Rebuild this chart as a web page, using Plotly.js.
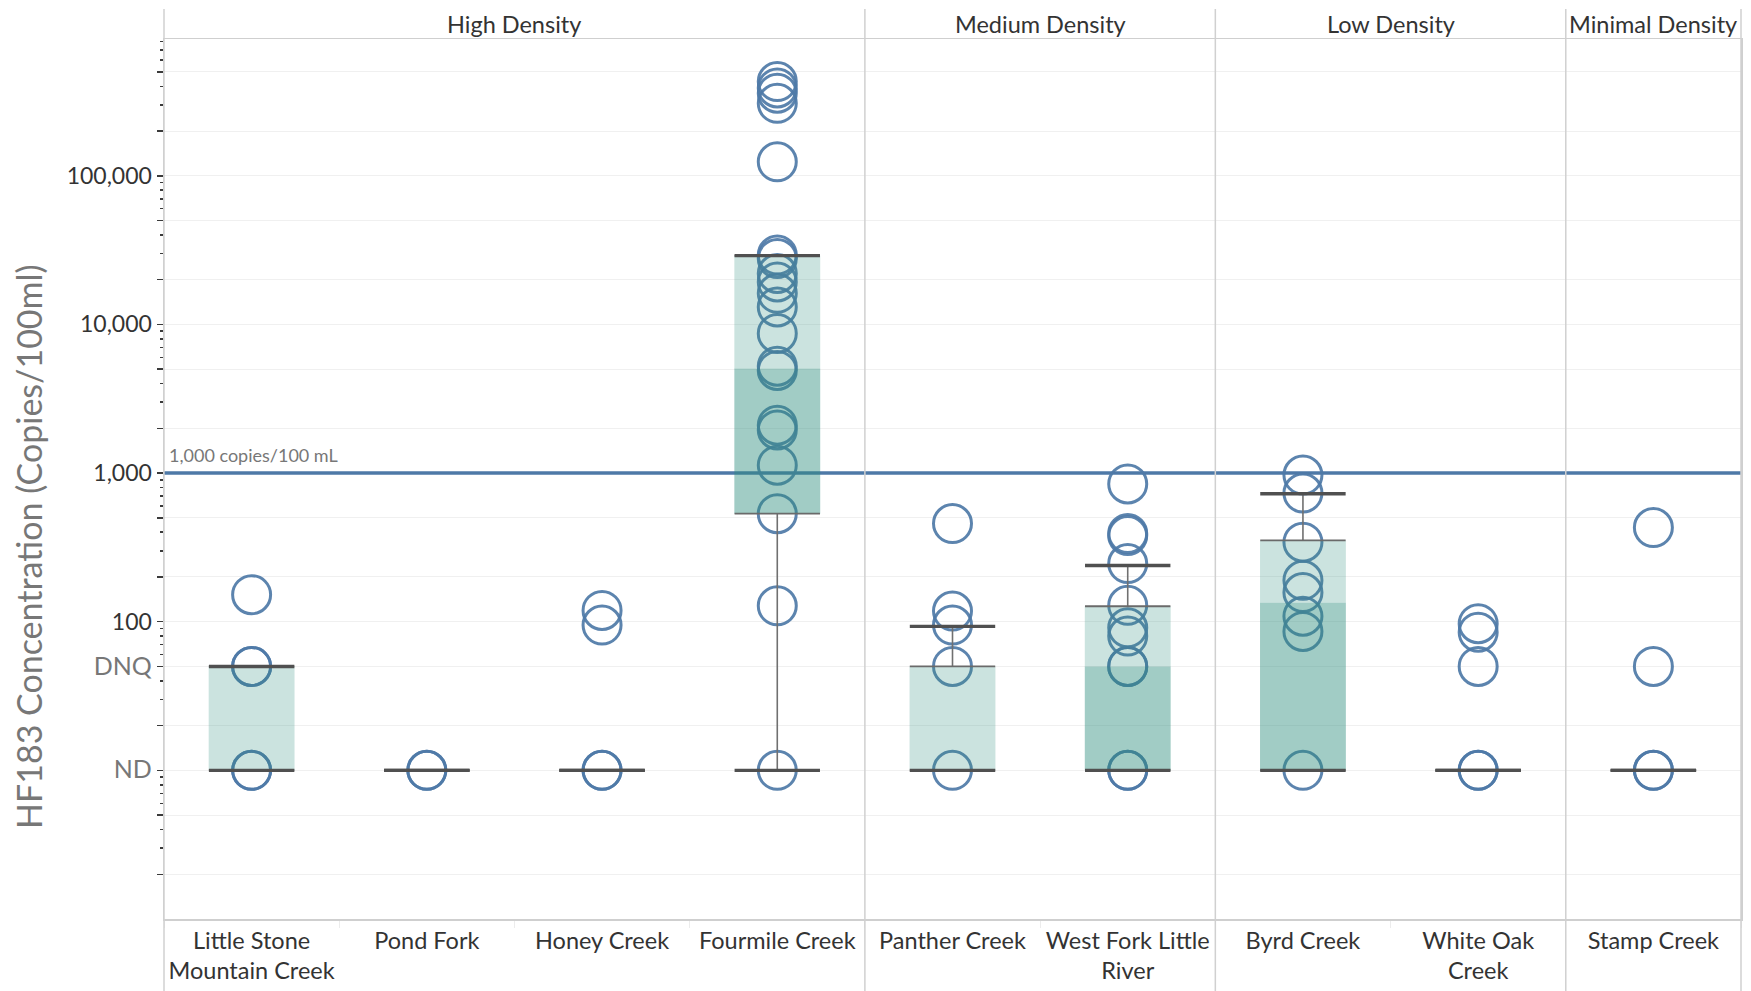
<!DOCTYPE html>
<html><head><meta charset="utf-8">
<script src="https://cdn.plot.ly/plotly-3.0.1.min.js"></script>
<style>html,body{margin:0;padding:0;background:#fff;}#chart{width:1751px;height:991px;}</style>
</head><body><div id="chart"></div>
<script>
// ---------- data ----------
const sites = ["Little Stone Mountain Creek","Pond Fork","Honey Creek","Fourmile Creek","Panther Creek","West Fork Little River","Byrd Creek","White Oak Creek","Stamp Creek"];
const siteLabels = ["Little Stone<br>Mountain Creek","Pond Fork","Honey Creek","Fourmile Creek","Panther Creek","West Fork Little<br>River","Byrd Creek","White Oak<br>Creek","Stamp Creek"];
const densityGroups = ["High Density","Medium Density","Low Density","Minimal Density"];
const sitesPerGroup = [4,2,2,1];

// samples (ND plotted at 10, DNQ plotted at 50)
const littleStone = [10,10,50,50,152];
const pondFork = [10,10];
const honeyCreek = [10,10,95,119];
const fourmileCreek = [10,128,533,1130,1950,2100,4900,5240,8700,13100,16200,19300,22000,27800,29300,124000,307000,359000,390000,430000];
const pantherCreek = [10,50,95,118,457];
const westForkLittleRiver = [10,10,50,50,80,91,129,246,380,392,845];
const byrdCreek = [10,86,109,157,190,343,734,970];
const whiteOakCreek = [10,10,50,85,97];
const stampCreek = [10,10,50,430];
const samples = [littleStone,pondFork,honeyCreek,fourmileCreek,pantherCreek,westForkLittleRiver,byrdCreek,whiteOakCreek,stampCreek];

// box plot statistics per site
const boxQ1 = [10,10,10,533,10,10,10,10,10];
const boxMedian = [10,10,10,5050,10,50,134,10,10];
const boxQ3 = [50,10,10,29000,50,127,352,10,10];
const whiskerLow = [10,10,10,10,10,10,10,10,10];
const whiskerHigh = [50,10,10,29000,93,239,726,10,10];

// axis ticks
const gridTickVals = [2,5,10,20,50,100,200,500,1000,2000,5000,10000,20000,50000,100000,200000,500000];
const gridTickText = ["","","ND","","DNQ","100","","","1,000","","","10,000","","","100,000","",""];
const minorMantissas = [3,4,6,7,8,9];
const minorDecades = [1,10,100,1000,10000,100000];
const thresholdValue = 1000;
const thresholdLabel = "1,000 copies/100 mL";
const yTitle = "HF183 Concentration (Copies/100ml)";

// ---------- build ----------
const FONT = "Lato, 'Open Sans', sans-serif";
const nSites = sites.length;
const minorVals = [];
minorDecades.forEach(d => minorMantissas.forEach(m => minorVals.push(m*d)));
const tickTextStyled = gridTickText.map(t => (t === "ND" || t === "DNQ") ? '<span style="font-size:25px;color:#777777">' + t + '</span>' : t);

const ptX = [], ptY = [];
samples.forEach((arr, i) => arr.forEach(v => { ptX.push(sites[i]); ptY.push(v); }));

const points = {
  type: 'scatter', mode: 'markers', x: ptX, y: ptY, xaxis: 'x', yaxis: 'y',
  marker: {symbol: 'circle-open', size: 38, color: 'rgba(78,121,167,0.92)', line: {width: 3, color: 'rgba(78,121,167,0.92)'}},
  hoverinfo: 'x+y', showlegend: false
};

const lowerBox = {
  type: 'bar', x: sites, base: boxQ1, y: boxQ1.map((q, i) => boxMedian[i] - q),
  width: 0.49, xaxis: 'x', yaxis: 'y2',
  marker: {color: 'rgba(46,142,127,0.45)', line: {width: 0}}, showlegend: false, hoverinfo: 'skip'
};
const upperBox = {
  type: 'bar', x: sites, base: boxMedian, y: boxMedian.map((m, i) => boxQ3[i] - m),
  width: 0.49, xaxis: 'x', yaxis: 'y2',
  marker: {color: 'rgba(46,142,127,0.25)', line: {width: 0}}, showlegend: false, hoverinfo: 'skip'
};

const wX = [], wY = [];
sites.forEach((s, i) => {
  if (whiskerHigh[i] > boxQ3[i]) { wX.push(s, s, null); wY.push(boxQ3[i], whiskerHigh[i], null); }
  if (whiskerLow[i] < boxQ1[i]) { wX.push(s, s, null); wY.push(whiskerLow[i], boxQ1[i], null); }
});
const whiskers = {
  type: 'scatter', mode: 'lines', x: wX, y: wY, xaxis: 'x', yaxis: 'y2',
  line: {color: '#707070', width: 1.6}, connectgaps: false, showlegend: false, hoverinfo: 'skip'
};

const edgeX = [], edgeY = [];
sites.forEach((s, i) => { edgeX.push(s, s); edgeY.push(boxQ1[i], boxQ3[i]); });
const boxEdges = {
  type: 'scatter', mode: 'markers', x: edgeX, y: edgeY, xaxis: 'x', yaxis: 'y2',
  marker: {symbol: 'line-ew', size: 61, line: {width: 1.8, color: '#6a6a6a'}}, showlegend: false, hoverinfo: 'skip'
};
const capX = [], capY = [];
sites.forEach((s, i) => { capX.push(s, s); capY.push(whiskerLow[i], whiskerHigh[i]); });
const caps = {
  type: 'scatter', mode: 'markers', x: capX, y: capY, xaxis: 'x', yaxis: 'y2',
  marker: {symbol: 'line-ew', size: 61, line: {width: 3.4, color: '#505050'}}, showlegend: false, hoverinfo: 'skip'
};

// layout geometry
const W = 1751, H = 991;
const mL = 164, mR = 10, mT = 39, mB = 72;
const plotH = H - mT - mB;
const yTop = 5.92;

const shapes = [];
const lineTop = 1 + (mT - 9) / plotH, lineBot = -mB / plotH;
let cum = 0;
const bounds = [0];
sitesPerGroup.forEach(n => { cum += n; bounds.push(cum / nSites); });
bounds.forEach(b => shapes.push({type: 'line', xref: 'paper', yref: 'paper', x0: b, x1: b, y0: lineBot, y1: lineTop, line: {color: '#d0d0d0', width: 1.5}, layer: 'above'}));
shapes.push({type: 'line', xref: 'x', yref: 'y', x0: -0.5, x1: nSites - 0.5, y0: thresholdValue, y1: thresholdValue, line: {color: '#4e79a7', width: 3.6}, layer: 'between'});

const annotations = [];
densityGroups.forEach((g, i) => {
  annotations.push({text: g, xref: 'paper', yref: 'paper', x: (bounds[i] + bounds[i+1]) / 2, y: 1 + 15 / plotH,
    xanchor: 'center', yanchor: 'middle', showarrow: false, font: {family: FONT, size: 23.5, color: '#333333'}});
});
annotations.push({text: thresholdLabel, xref: 'paper', yref: 'y', x: 0, y: Math.log10(thresholdValue), xanchor: 'left', yanchor: 'bottom',
  xshift: 3, yshift: 5, showarrow: false, font: {family: FONT, size: 18, color: '#777777'}});
annotations.push({text: yTitle, xref: 'paper', yref: 'paper', x: (28 - mL) / (W - mL - mR), y: (H - mB - 547) / plotH,
  xanchor: 'center', yanchor: 'middle', textangle: -90, showarrow: false, font: {family: FONT, size: 34, color: '#777777'}});

const layout = {
  width: W, height: H,
  margin: {l: mL, r: mR, t: mT, b: mB, pad: 0},
  paper_bgcolor: '#ffffff', plot_bgcolor: '#ffffff',
  barmode: 'overlay', showlegend: false,
  font: {family: FONT, color: '#333333'},
  xaxis: {
    type: 'category', categoryorder: 'array', categoryarray: sites,
    tickvals: sites, ticktext: siteLabels,
    range: [-0.5, nSites - 0.5], showgrid: false, zeroline: false,
    showline: true, linecolor: '#cfcfcf', linewidth: 1.5, mirror: true,
    ticks: 'outside', tickson: 'boundaries', ticklen: 7, tickcolor: '#ececec', tickwidth: 1,
    tickfont: {family: FONT, size: 23.5, color: '#333333'}, automargin: false, fixedrange: true
  },
  yaxis: {
    type: 'log', range: [0, yTop], tickmode: 'array', tickvals: gridTickVals, ticktext: tickTextStyled,
    showgrid: true, gridcolor: '#f0f0f0', gridwidth: 1, zeroline: false,
    showline: true, linecolor: '#cfcfcf', linewidth: 1.5, mirror: true,
    ticks: 'outside', ticklen: 6, tickwidth: 1.5, tickcolor: '#3a3a3a',
    minor: {tickmode: 'array', tickvals: minorVals, ticks: 'outside', ticklen: 3, tickwidth: 1.5, tickcolor: '#3a3a3a', showgrid: false},
    tickfont: {family: FONT, size: 23, color: '#333333'}, automargin: false, fixedrange: true
  },
  yaxis2: {type: 'log', range: [0, yTop], overlaying: 'y', visible: false, fixedrange: true},
  shapes: shapes, annotations: annotations
};

Plotly.newPlot('chart', [points, lowerBox, upperBox, whiskers, boxEdges, caps], layout, {displayModeBar: false, staticPlot: true});
</script></body></html>
